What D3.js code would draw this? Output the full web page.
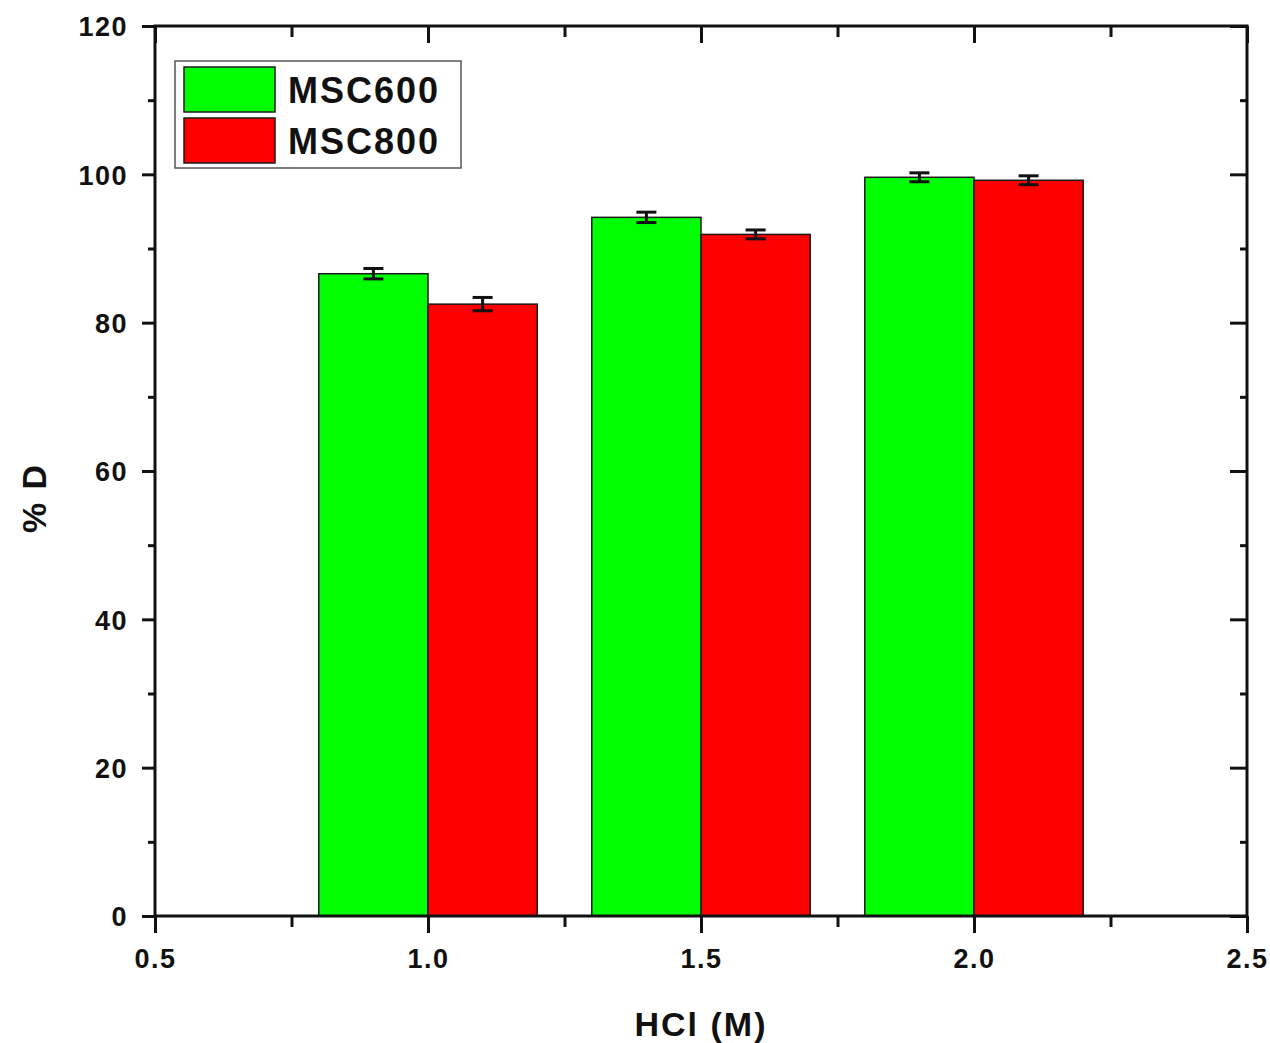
<!DOCTYPE html>
<html>
<head>
<meta charset="utf-8">
<script src="https://cdn.jsdelivr.net/npm/d3@7"></script>
<style>
  html, body { margin: 0; padding: 0; background: #fff; }
  svg text { font-family: "Liberation Sans", Arial, sans-serif; font-weight: bold; fill: #111; }
</style>
</head>
<body>
<script>
// HCl concentration (M) for each bar group
const categories = [1.0, 1.5, 2.0];
// Series: % D with standard deviation
const seriesNames = ["MSC600", "MSC800"];
const seriesColors = ["#00ff00", "#ff0000"];
const msc600 = [86.6, 94.2, 99.6];
const msc800 = [82.5, 91.9, 99.2];
const msc600Err = [0.7, 0.7, 0.6];
const msc800Err = [0.9, 0.6, 0.6];
const xTicks = [0.5, 1.0, 1.5, 2.0, 2.5];
const xMinorTicks = [0.75, 1.25, 1.75, 2.25];
const yTicks = [0, 20, 40, 60, 80, 100, 120];
const yMinorTicks = [10, 30, 50, 70, 90, 110];

const W = 1270, H = 1043;
const svg = d3.select("body").append("svg").attr("width", W).attr("height", H);

const x = d3.scaleLinear().domain([0.5, 2.5]).range([155, 1247]);
const y = d3.scaleLinear().domain([0, 120]).range([916, 26]);
const barW = 0.2;

const series = [
  { name: seriesNames[0], color: seriesColors[0], values: msc600, err: msc600Err, offset: -barW },
  { name: seriesNames[1], color: seriesColors[1], values: msc800, err: msc800Err, offset: 0 }
];

// Bars
series.forEach(s => {
  svg.append("g").selectAll("rect").data(categories).join("rect")
    .attr("x", (c) => x(c + s.offset))
    .attr("width", (c) => x(c + s.offset + barW) - x(c + s.offset))
    .attr("y", (c, i) => y(s.values[i]))
    .attr("height", (c, i) => y(0) - y(s.values[i]))
    .attr("fill", s.color)
    .attr("stroke", "#1a1a1a")
    .attr("stroke-width", 1.5);
});

// Error bars
series.forEach(s => {
  const g = svg.append("g").attr("stroke", "#111").attr("stroke-width", 3);
  categories.forEach((c, i) => {
    const cx = x(c + s.offset + barW / 2);
    const top = y(s.values[i] + s.err[i]);
    const bot = y(s.values[i] - s.err[i]);
    g.append("line").attr("x1", cx).attr("x2", cx).attr("y1", top).attr("y2", bot);
    g.append("line").attr("x1", cx - 10).attr("x2", cx + 10).attr("y1", top).attr("y2", top);
    g.append("line").attr("x1", cx - 10).attr("x2", cx + 10).attr("y1", bot).attr("y2", bot);
  });
});

// Axes
const fmt1 = d3.format(".1f");
const xAxis = svg.append("g").attr("transform", `translate(0,${y(0)})`)
  .call(d3.axisBottom(x).tickValues(xTicks).tickFormat(fmt1).tickSize(17).tickPadding(16));
const xMinor = svg.append("g").attr("transform", `translate(0,${y(0)})`)
  .call(d3.axisBottom(x).tickValues(xMinorTicks).tickFormat("").tickSize(11));
const xTop = svg.append("g").attr("transform", `translate(0,${y(120)})`)
  .call(d3.axisBottom(x).tickValues(xTicks).tickFormat("").tickSize(17));
const xTopMinor = svg.append("g").attr("transform", `translate(0,${y(120)})`)
  .call(d3.axisBottom(x).tickValues(xMinorTicks).tickFormat("").tickSize(11));

const yAxis = svg.append("g").attr("transform", `translate(${x(0.5)},0)`)
  .call(d3.axisLeft(y).tickValues(yTicks).tickFormat(d3.format("d")).tickSize(13).tickPadding(14));
const yMinor = svg.append("g").attr("transform", `translate(${x(0.5)},0)`)
  .call(d3.axisLeft(y).tickValues(yMinorTicks).tickFormat("").tickSize(7));
const yRight = svg.append("g").attr("transform", `translate(${x(2.5)},0)`)
  .call(d3.axisLeft(y).tickValues(yTicks).tickFormat("").tickSize(17));
const yRightMinor = svg.append("g").attr("transform", `translate(${x(2.5)},0)`)
  .call(d3.axisLeft(y).tickValues(yMinorTicks).tickFormat("").tickSize(7));

[xAxis, xMinor, xTop, xTopMinor, yAxis, yMinor, yRight, yRightMinor].forEach(g => {
  g.select(".domain").remove();
  g.selectAll(".tick line").attr("stroke", "#111").attr("stroke-width", 3);
});
// top ticks point inward (downward from top frame)
xTop.selectAll(".tick line").attr("y2", 17);
xTopMinor.selectAll(".tick line").attr("y2", 11);

xAxis.selectAll("text").style("font-size", "27px").style("letter-spacing", "1.5px").attr("fill", "#111");
yAxis.selectAll("text").style("font-size", "27px").style("letter-spacing", "1.5px").attr("fill", "#111")
  .attr("dy", "0.36em");

// Frame
svg.append("rect")
  .attr("x", x(0.5)).attr("y", y(120))
  .attr("width", x(2.5) - x(0.5)).attr("height", y(0) - y(120))
  .attr("fill", "none").attr("stroke", "#111").attr("stroke-width", 3);

// Axis titles
svg.append("text")
  .attr("x", 701).attr("y", 1036)
  .attr("text-anchor", "middle")
  .style("font-size", "34px").style("letter-spacing", "2px")
  .text("HCl (M)");

svg.append("text")
  .attr("transform", "translate(46,498) rotate(-90)")
  .attr("text-anchor", "middle")
  .style("font-size", "34px").style("letter-spacing", "2px")
  .text("% D");

// Legend
const legend = svg.append("g");
legend.append("rect")
  .attr("x", 175).attr("y", 61).attr("width", 286).attr("height", 107)
  .attr("fill", "#fff").attr("stroke", "#555").attr("stroke-width", 1.5);
series.forEach((s, i) => {
  const ly = 67 + i * 51;
  legend.append("rect")
    .attr("x", 184).attr("y", ly).attr("width", 91).attr("height", 45)
    .attr("fill", s.color).attr("stroke", "#1a1a1a").attr("stroke-width", 1.5);
  legend.append("text")
    .attr("x", 288).attr("y", ly + 36)
    .style("font-size", "36px").style("letter-spacing", "2px")
    .text(s.name);
});
</script>
</body>
</html>
